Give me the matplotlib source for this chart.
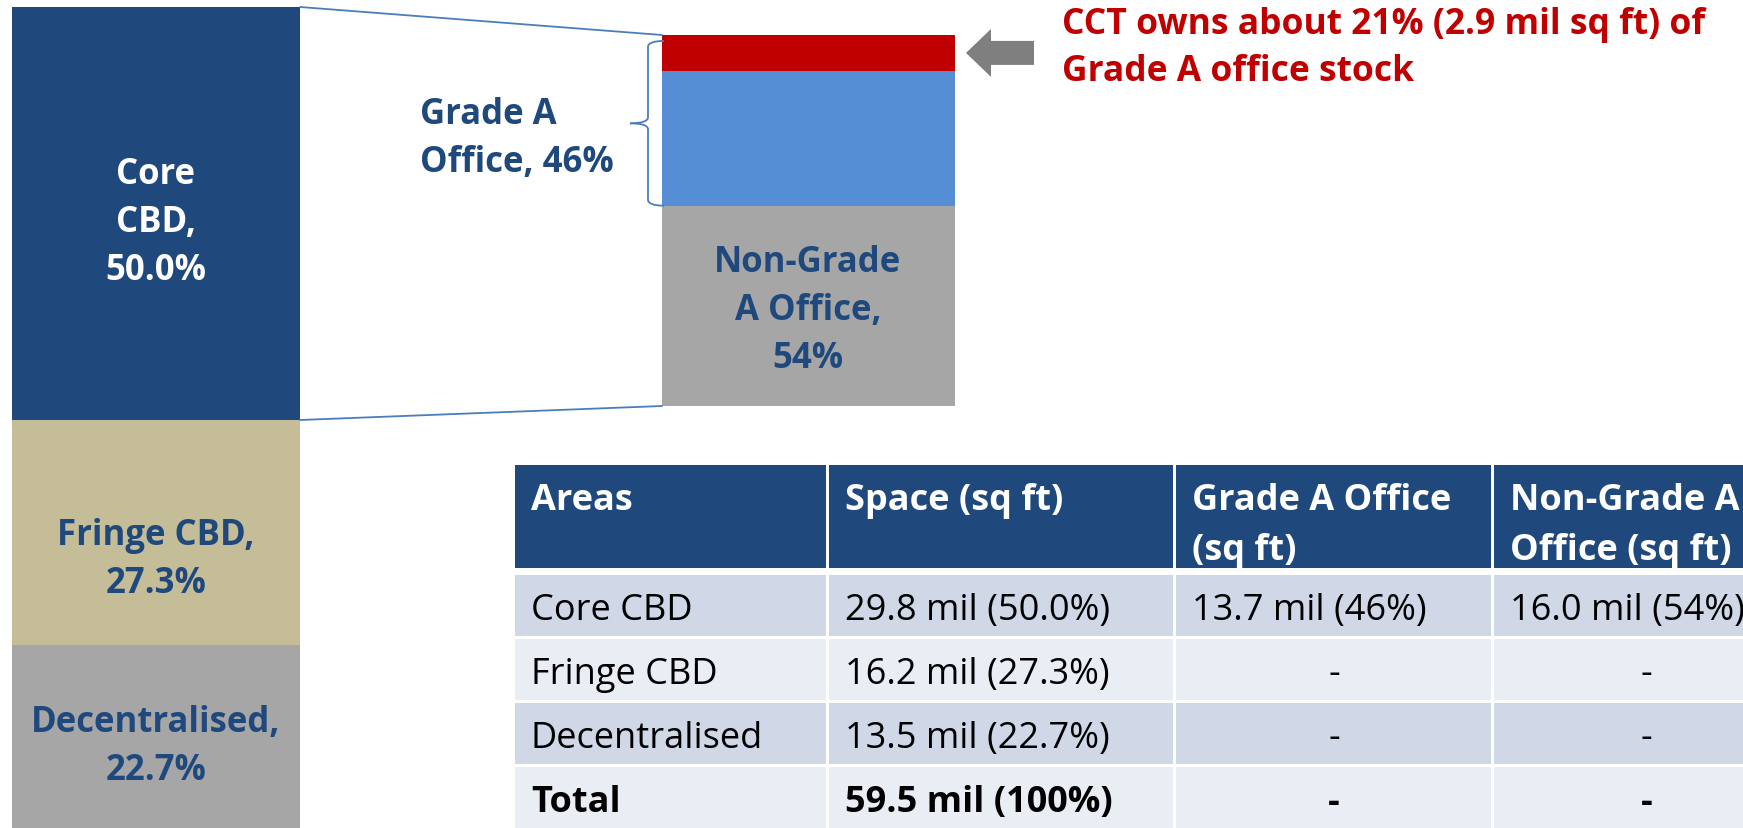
import matplotlib
matplotlib.use('Agg')
import matplotlib.pyplot as plt
from matplotlib.patches import Rectangle, ConnectionPatch, FancyArrow, PathPatch
from matplotlib.path import Path
import numpy as np

# ---------------- data ----------------
areas = ['Core CBD', 'Fringe CBD', 'Decentralised']
area_bar_names = ['Core\nCBD', 'Fringe CBD', 'Decentralised']
space_mil = [29.8, 16.2, 13.5]
space_pct = [50.0, 27.3, 22.7]
total_mil = 59.5
total_pct = 100
grade_names = ['Grade A\nOffice', 'Non-Grade\nA Office']
grade_mil = [13.7, 16.0]
grade_pct = [46, 54]
cct_pct_of_grade_a = 21
cct_mil = 2.9
headers = ['Areas', 'Space (sq ft)', 'Grade A Office\n(sq ft)', 'Non-Grade A\nOffice (sq ft)']

# ---------------- style ----------------
W, H, DPI = 1743, 829, 100
FONT = ['Open Sans', 'DejaVu Sans']
plt.rcParams['font.family'] = FONT
DARK = '#1F497D'
TAN = '#C4BD97'
GREY = '#A6A6A6'
LBLUE = '#558ED5'
RED = '#C00000'
LINE = '#4A7EBB'
ROW_DARK = '#D0D8E8'
ROW_LIGHT = '#E9EDF4'

fig = plt.figure(figsize=(W / DPI, H / DPI), dpi=DPI)


def px_axes(x0, y0, x1, y1):
    return fig.add_axes([x0 / W, 1 - y1 / H, (x1 - x0) / W, (y1 - y0) / H])


# ---------------- left 100% stacked bar ----------------
axL = px_axes(12, 8, 300, 834)
bottomsL = np.concatenate([[0], np.cumsum(space_pct)[:-1]])
axL.bar(0, space_pct, bottom=bottomsL, width=1, color=[DARK, TAN, GREY], linewidth=0)
axL.set_xlim(-0.5, 0.5)
axL.set_ylim(total_pct, 0)
axL.axis('off')

# ---------------- right stacked bar (Core CBD split) ----------------
cct_part = grade_pct[0] * cct_pct_of_grade_a / 100
segR = [cct_part, grade_pct[0] - cct_part, grade_pct[1]]
bottomsR = np.concatenate([[0], np.cumsum(segR)[:-1]])
axR = px_axes(662, 36, 955, 407)
axR.bar(0, segR, bottom=bottomsR, width=1, color=[RED, LBLUE, GREY], linewidth=0)
axR.set_xlim(-0.5, 0.5)
axR.set_ylim(sum(grade_pct), 0)
axR.axis('off')

# connector lines
for yl, yr in [(0, 0), (space_pct[0], sum(grade_pct))]:
    con = ConnectionPatch(xyA=(0.5, yl), coordsA=axL.transData,
                          xyB=(-0.5, yr), coordsB=axR.transData,
                          color=LINE, lw=1.3)
    fig.add_artist(con)

# curly brace around Grade A part
pxu = 293.0  # px per x data unit of axR
ppy = 371.0 / 100  # px per y data unit
xe = -0.5 + 2 / pxu
xs = -0.5 - 14 / pxu
xt = -0.5 - 32 / pxu
y0, y1 = 1.6, grade_pct[0]
ym = (y0 + y1) / 2
r = 6 / ppy
verts = [(xe, y0), (xs, y0), (xs, y0 + r),
         (xs, ym - r),
         (xs, ym), (xt, ym),
         (xs, ym), (xs, ym + r),
         (xs, y1 - r),
         (xs, y1), (xe, y1)]
codes = [Path.MOVETO, Path.CURVE3, Path.CURVE3,
         Path.LINETO,
         Path.CURVE3, Path.CURVE3,
         Path.CURVE3, Path.CURVE3,
         Path.LINETO,
         Path.CURVE3, Path.CURVE3]
brace1 = Path(verts[:6], codes[:6])
brace2 = Path([(xt, ym)] + verts[6:], [Path.MOVETO] + codes[6:])
for p in (brace1, brace2):
    axR.add_patch(PathPatch(p, fill=False, edgecolor=LINE, lw=1.3, clip_on=False))

# grey arrow pointing at CCT share
arr = FancyArrow(0.5 + 79 / pxu, cct_part / 2, -(79 - 11) / pxu, 0,
                 width=24 / ppy, head_width=48 / ppy, head_length=25 / pxu,
                 length_includes_head=True, color='#7F7F7F', lw=0, clip_on=False)
axR.add_patch(arr)

# ---------------- overlay axes (pixel coords) for texts and table ----------------
axO = fig.add_axes([0, 0, 1, 1])
axO.set_xlim(0, W)
axO.set_ylim(H, 0)
axO.axis('off')
axO.set_zorder(10)
axO.patch.set_visible(False)

LS = 1.44
lab_fs = 25
lab_pos = [(156, 157), (156, 518), (156, 705)]
lab_col = ['white', DARK, DARK]
for name, pct, (x, y), c in zip(area_bar_names, space_pct, lab_pos, lab_col):
    axO.text(x, y, f'{name},\n{pct:.1f}%', color=c, fontsize=lab_fs, fontweight='bold',
             ha='center', va='top', linespacing=LS)

axO.text(420, 97, f'{grade_names[0]}, {grade_pct[0]}%', color=DARK, fontsize=lab_fs,
         fontweight='bold', ha='left', va='top', linespacing=LS)
axO.text(808, 245, f'{grade_names[1]},\n{grade_pct[1]}%', color=DARK, fontsize=lab_fs,
         fontweight='bold', ha='center', va='top', linespacing=LS)

axO.text(1062, 7,
         f'CCT owns about {cct_pct_of_grade_a}% ({cct_mil} mil sq ft) of\nGrade A office stock',
         color=RED, fontsize=25.5, fontweight='bold', ha='left', va='top', linespacing=1.42)

# ---------------- table ----------------
col_edges = [514, 828, 1175, 1493, 1800]
head_top, head_bot = 466, 569
row_tops = [576, 640, 704, 768]
row_h = 61
gap = 1.5
pad = 17

for i in range(4):
    x0, x1 = col_edges[i], col_edges[i + 1]
    axO.add_patch(Rectangle((x0 + gap, head_top), x1 - x0 - 2 * gap, head_bot - head_top,
                            facecolor=DARK, edgecolor='none', clip_on=False))
    axO.text(x0 + pad, 483, headers[i], color='white', fontsize=26, fontweight='bold',
             ha='left', va='top', linespacing=1.53, clip_on=False)

rows = []
for a, m, p in zip(areas, space_mil, space_pct):
    rows.append([a, f'{m} mil ({p:.1f}%)'])
rows[0] += [f'{grade_mil[0]} mil ({grade_pct[0]}%)', f'{grade_mil[1]:.1f} mil ({grade_pct[1]}%)']
rows[1] += ['-', '-']
rows[2] += ['-', '-']
rows.append(['Total', f'{total_mil} mil ({total_pct}%)', '-', '-'])

for r_i, (row, top) in enumerate(zip(rows, row_tops)):
    fc = ROW_DARK if r_i % 2 == 0 else ROW_LIGHT
    bold = (r_i == len(rows) - 1)
    for c_i in range(4):
        x0, x1 = col_edges[c_i], col_edges[c_i + 1]
        axO.add_patch(Rectangle((x0 + gap, top), x1 - x0 - 2 * gap, row_h,
                                facecolor=fc, edgecolor='none', clip_on=False))
        txt = row[c_i]
        if txt == '-':
            axO.text((x0 + x1) / 2, top + 44, txt, color='black', fontsize=26,
                     fontweight='bold' if bold else 'normal', ha='center', va='baseline',
                     clip_on=False)
        else:
            axO.text(x0 + pad, top + 44, txt, color='black', fontsize=26,
                     fontweight='bold' if bold else 'normal', ha='left', va='baseline',
                     clip_on=False)

fig.savefig('out.png', dpi=DPI)
